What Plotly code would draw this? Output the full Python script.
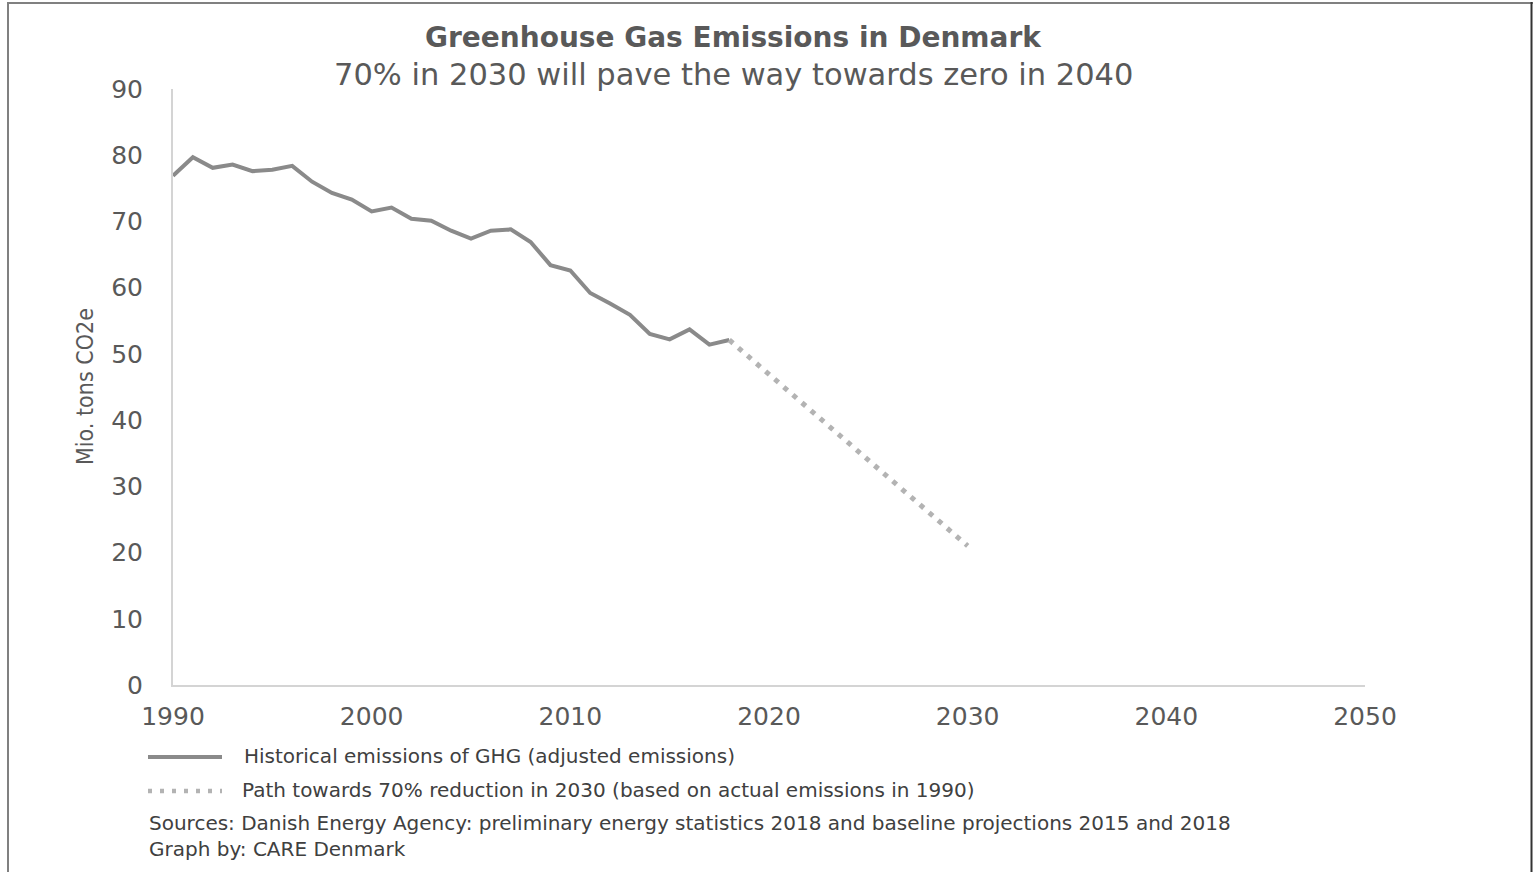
import plotly.graph_objects as go

# ---- data ----
hist_years = list(range(1990, 2019))
hist_values = [76.9, 79.7, 78.1, 78.6, 77.6, 77.8, 78.4, 76.0, 74.3, 73.3,
               71.5, 72.1, 70.4, 70.1, 68.6, 67.4, 68.6, 68.8, 66.9, 63.4,
               62.6, 59.2, 57.6, 55.9, 53.0, 52.2, 53.7, 51.4, 52.1]
path_years = [2018, 2030]
path_values = [52.1, 21.0]

x_ticks = [1990, 2000, 2010, 2020, 2030, 2040, 2050]
y_ticks = [0, 10, 20, 30, 40, 50, 60, 70, 80, 90]

title_text = "Greenhouse Gas Emissions in Denmark"
subtitle_text = "70% in 2030 will pave the way towards zero in 2040"
y_title = "Mio. tons CO2e"
legend_hist = "Historical emissions of GHG (adjusted emissions)"
legend_path = "Path towards 70% reduction in 2030 (based on actual emissions in 1990)"
source_text = "Sources: Danish Energy Agency: preliminary energy statistics 2018 and baseline projections 2015 and 2018"
credit_text = "Graph by: CARE Denmark"

# ---- layout geometry ----
W, H = 1533, 872
L, R, T, B = 173, 1365, 89, 685
pw, ph = R - L, B - T


def px(x):
    return (x - L) / pw


def py(y):
    return (B - y) / ph


HIST_COLOR = "#8a8a8a"
PATH_COLOR = "#b3b3b3"
TEXT_COLOR = "#595959"
WIDE = "DejaVu Sans"
NARROW = "Liberation Sans Narrow, DejaVu Sans Condensed, Liberation Sans"

fig = go.Figure()
fig.add_trace(go.Scatter(x=hist_years, y=hist_values, mode="lines",
                         line=dict(color=HIST_COLOR, width=4),
                         name=legend_hist, showlegend=False))
fig.add_trace(go.Scatter(x=path_years, y=path_values, mode="lines",
                         line=dict(color=PATH_COLOR, width=5, dash="5px,7px"),
                         name=legend_path, showlegend=False))

shapes = [
    # legend samples
    dict(type="line", xref="paper", yref="paper", x0=px(148), x1=px(222),
         y0=py(757), y1=py(757), line=dict(color=HIST_COLOR, width=4)),
    dict(type="line", xref="paper", yref="paper", x0=px(148), x1=px(222),
         y0=py(791), y1=py(791), line=dict(color=PATH_COLOR, width=4.5, dash="4px,8px")),
    # border
    dict(type="line", xref="paper", yref="paper", x0=px(8), x1=px(8),
         y0=py(2), y1=py(872), line=dict(color="#808080", width=2)),
    dict(type="line", xref="paper", yref="paper", x0=px(7), x1=px(1533),
         y0=py(3), y1=py(3), line=dict(color="#808080", width=2)),
    dict(type="line", xref="paper", yref="paper", x0=px(1531.5), x1=px(1531.5),
         y0=py(2), y1=py(872), line=dict(color="#333333", width=2)),
]

annotations = [
    dict(text="<b>" + title_text + "</b>", x=px(733), y=py(37), xref="paper", yref="paper",
         showarrow=False, xanchor="center", yanchor="middle",
         font=dict(family=WIDE, size=28, color=TEXT_COLOR)),
    dict(text=subtitle_text, x=px(733), y=py(74), xref="paper", yref="paper",
         showarrow=False, xanchor="center", yanchor="middle",
         font=dict(family=WIDE, size=30.5, color=TEXT_COLOR)),
    dict(text=y_title, x=px(85), y=py(387), xref="paper", yref="paper",
         showarrow=False, xanchor="center", yanchor="middle", textangle=-90,
         font=dict(family=NARROW, size=23, color=TEXT_COLOR)),
    dict(text=legend_hist, x=px(242), y=py(756), xref="paper", yref="paper",
         showarrow=False, xanchor="left", yanchor="middle",
         font=dict(family=WIDE, size=20, color="#404040")),
    dict(text=legend_path, x=px(240), y=py(790), xref="paper", yref="paper",
         showarrow=False, xanchor="left", yanchor="middle",
         font=dict(family=WIDE, size=20, color="#404040")),
    dict(text=source_text, x=px(147), y=py(823), xref="paper", yref="paper",
         showarrow=False, xanchor="left", yanchor="middle",
         font=dict(family=WIDE, size=20, color="#404040")),
    dict(text=credit_text, x=px(147), y=py(849), xref="paper", yref="paper",
         showarrow=False, xanchor="left", yanchor="middle",
         font=dict(family=WIDE, size=20, color="#404040")),
]

fig.update_layout(
    width=W, height=H,
    margin=dict(l=L, r=W - R, t=T, b=H - B, pad=0),
    paper_bgcolor="white", plot_bgcolor="white",
    showlegend=False,
    shapes=shapes, annotations=annotations,
    xaxis=dict(range=[1990, 2050], tickvals=x_ticks, ticktext=[str(v) for v in x_ticks],
               showgrid=False, zeroline=False, showline=True, linecolor="#d4d4d4",
               linewidth=2, ticks="", ticklabelstandoff=8,
               tickfont=dict(family=WIDE, size=25, color=TEXT_COLOR)),
    yaxis=dict(range=[0, 90], tickvals=y_ticks, ticktext=[str(v) for v in y_ticks],
               showgrid=False, zeroline=False, showline=True, linecolor="#d4d4d4",
               linewidth=2, ticks="", ticklabelstandoff=23,
               tickfont=dict(family=WIDE, size=25, color=TEXT_COLOR)),
)

fig.write_html("out.html")
